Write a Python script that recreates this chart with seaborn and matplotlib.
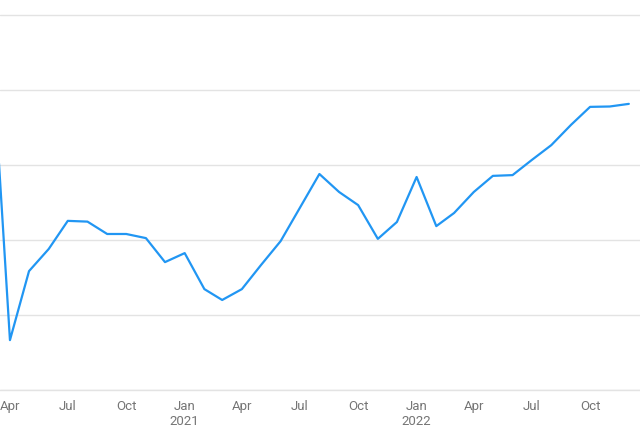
import pandas as pd
import seaborn as sns
import matplotlib.pyplot as plt


months = pd.date_range("2020-03-01", "2022-12-01", freq="MS")
values = [98.0, 13.3, 31.7, 37.6, 45.1, 44.9, 41.6, 41.6, 40.5, 34.1,
          36.5, 26.9, 24.0, 26.9, 33.3, 39.7, 48.5, 57.6, 52.8, 49.3,
          40.3, 44.8, 56.8, 43.7, 47.2, 52.8, 57.1, 57.3, 61.3, 65.3,
          70.7, 75.5, 75.6, 76.3]

tick_dates = pd.to_datetime(["2020-04-01", "2020-07-01", "2020-10-01", "2021-01-01",
                             "2021-04-01", "2021-07-01", "2021-10-01", "2022-01-01",
                             "2022-04-01", "2022-07-01", "2022-10-01"])
tick_labels = ["Apr", "Jul", "Oct", "Jan\n2021", "Apr", "Jul", "Oct", "Jan\n2022",
               "Apr", "Jul", "Oct"]
y_ticks = [0, 20, 40, 60, 80, 100]

df = pd.DataFrame({"month": months, "value": values})

sns.set_theme(style="white")
plt.rcParams["font.family"] = ["Roboto", "DejaVu Sans"]

fig = plt.figure(figsize=(6.4, 4.46), dpi=100)
ax = fig.add_axes([0, 0.1256, 1, 0.8744])

sns.lineplot(data=df, x="month", y="value", ax=ax, color="#2196f3",
             linewidth=1.6, solid_joinstyle="round", solid_capstyle="round")

ax.set_xlim(pd.Timestamp("2020-03-16 08:00"), pd.Timestamp("2022-12-18 14:00"))
ax.set_ylim(0, 104)

ax.set_yticks(y_ticks)
ax.set_yticklabels([])
ax.grid(axis="y", color="#e3e3e3", linewidth=1)
ax.set_axisbelow(True)

ax.set_xticks(tick_dates)
ax.set_xticklabels(tick_labels, color="#757575", fontsize=9.5, linespacing=1.25)
ax.tick_params(axis="x", length=0, pad=7)
ax.tick_params(axis="y", length=0)
ax.set_xlabel("")
ax.set_ylabel("")

for s in ["top", "left", "right"]:
    ax.spines[s].set_visible(False)
ax.spines["bottom"].set_color("#e3e3e3")
ax.spines["bottom"].set_linewidth(1)

fig.savefig("out.png", dpi=100)
